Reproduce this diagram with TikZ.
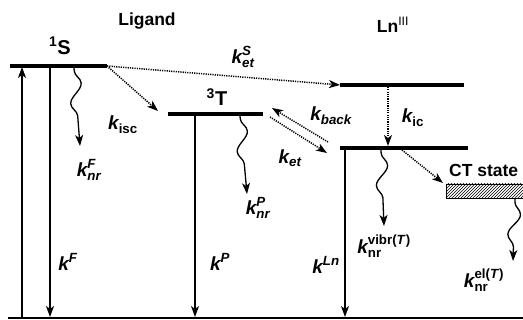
\documentclass[tikz,border=0pt]{standalone}
\usepackage{amsmath}
\usepackage{fontspec}
\setmainfont{Liberation Sans}
\usetikzlibrary{arrows.meta,decorations.pathmorphing,patterns}
\newcommand{\rate}[2]{\ensuremath{\text{\itshape k}_{\text{#1}}^{\text{#2}}}}
\newcommand{\rsup}[1]{\ensuremath{\text{\itshape k}^{\text{#1}}}}
\newcommand{\rsub}[1]{\ensuremath{\text{\itshape k}_{\text{#1}}}}
\begin{document}
\begin{tikzpicture}[x=1pt,y=-1pt,
  level/.style={line width=3.8pt},
  ground/.style={line width=2.4pt},
  arr/.style={line width=1.3pt,-{Stealth[length=11pt,width=8pt,inset=3pt]}},
  dotarr/.style={arr,line width=1.5pt,dash pattern=on 1.2pt off 1.1pt},
  wavy/.style={arr,decorate,decoration={snake,amplitude=6pt,segment length=40pt,pre length=3pt,post length=11pt}},
  lbl/.style={font=\bfseries\fontsize{17.5}{20}\selectfont,inner sep=0pt},
  klbl/.style={font=\bfseries\fontsize{19}{20}\selectfont,inner sep=0pt}]
\useasboundingbox (0,0) rectangle (523,320);
% coordinates
\coordinate (S1l) at (10,66);  \coordinate (S1r) at (107,66);
\coordinate (T3l) at (168,114); \coordinate (T3r) at (263,114);
\coordinate (LUl) at (340,85); \coordinate (LUr) at (464,85);
\coordinate (LLl) at (340,148); \coordinate (LLr) at (468,148);
\coordinate (G0) at (8,318);   \coordinate (G1) at (523,318);
% levels
\draw[level] (S1l) -- (S1r);
\draw[level] (T3l) -- (T3r);
\draw[level] (LUl) -- (LUr);
\draw[level] (LLl) -- (LLr);
\draw[ground] (G0) -- (G1);
\draw[line width=0.8pt,pattern=north east lines] (446,184) rectangle (524,198);
\coordinate (CTb) at (515,199);
% vertical radiative arrows
\coordinate (a1b) at (22,318); \coordinate (a1t) at (22,67);
\draw[arr] (a1b) -- (a1t);
\coordinate (a2t) at (50,67); \coordinate (a2b) at (50,317);
\draw[arr] (a2t) -- (a2b);
\coordinate (a3t) at (195,115); \coordinate (a3b) at (195,317);
\draw[arr] (a3t) -- (a3b);
\coordinate (a4t) at (345,149); \coordinate (a4b) at (345,317);
\draw[arr] (a4t) -- (a4b);
% dotted transfers
\coordinate (isc) at (158,111);
\draw[dotarr] (S1r) -- (isc);
\coordinate (etS) at (340,85);
\draw[dotarr] (S1r) -- (etS);
\coordinate (bk0) at (328,142); \coordinate (bk1) at (272,108);
\draw[dotarr] (bk0) -- (bk1);
\coordinate (et0) at (270,117); \coordinate (et1) at (327,153);
\draw[dotarr] (et0) -- (et1);
\coordinate (ic0) at (388,87); \coordinate (ic1) at (388,146);
\draw[dotarr] (ic0) -- (ic1);
\coordinate (ct0) at (402,150); \coordinate (ct1) at (443,183);
\draw[dotarr] (ct0) -- (ct1);
% wavy non-radiative
\coordinate (w1a) at (74,68);  \coordinate (w1b) at (80,146);
\draw[wavy] (w1a) -- (w1b);
\coordinate (w2a) at (240,116); \coordinate (w2b) at (247,194);
\draw[wavy] (w2a) -- (w2b);
\coordinate (w3a) at (381,150); \coordinate (w3b) at (384,226);
\draw[wavy] (w3a) -- (w3b);
\coordinate (w4b) at (513,261);
\draw[wavy] (CTb) -- (w4b);
% labels
\node[lbl] (Lig) at (147,21) {Ligand};
\node[lbl] (Ln) at (393,25) {\ensuremath{\text{Ln}^{\text{\mdseries III}}}};
\node[lbl,font=\bfseries\fontsize{20}{22}\selectfont] (S) at (60,46) {\ensuremath{{}^{\text{1}}\text{S}}};
\node[lbl,font=\bfseries\fontsize{20}{22}\selectfont] (T) at (217,97) {\ensuremath{{}^{\text{3}}\text{T}}};
\node[lbl,anchor=west] (CT) at (449,170) {CT state};
\node[klbl] (kets) at (243,57) {\rate{\itshape et}{\itshape S}};
\node[klbl] (kisc) at (123,125) {\rsub{isc}};
\node[klbl] (knrF) at (89,170) {\rate{\itshape nr}{\itshape F}};
\node[klbl] (kback) at (331,116) {\rsub{\itshape back}};
\node[klbl] (ket) at (290,158) {\rsub{\itshape et}};
\node[klbl] (kic) at (413,118) {\rsub{ic}};
\node[klbl] (knrP) at (258,208) {\rate{\itshape nr}{\itshape P}};
\node[klbl] (kF) at (68,262) {\rsup{\itshape F}};
\node[klbl] (kP) at (220,262) {\rsup{\itshape P}};
\node[klbl] (kLn) at (326,265) {\rsup{\itshape Ln}};
\node[klbl] (kvib) at (384,246) {\rate{nr}{vibr(\textit{T})}};
\node[klbl] (kel) at (484,280) {\rate{nr}{el(\textit{T})}};
\end{tikzpicture}
\end{document}
